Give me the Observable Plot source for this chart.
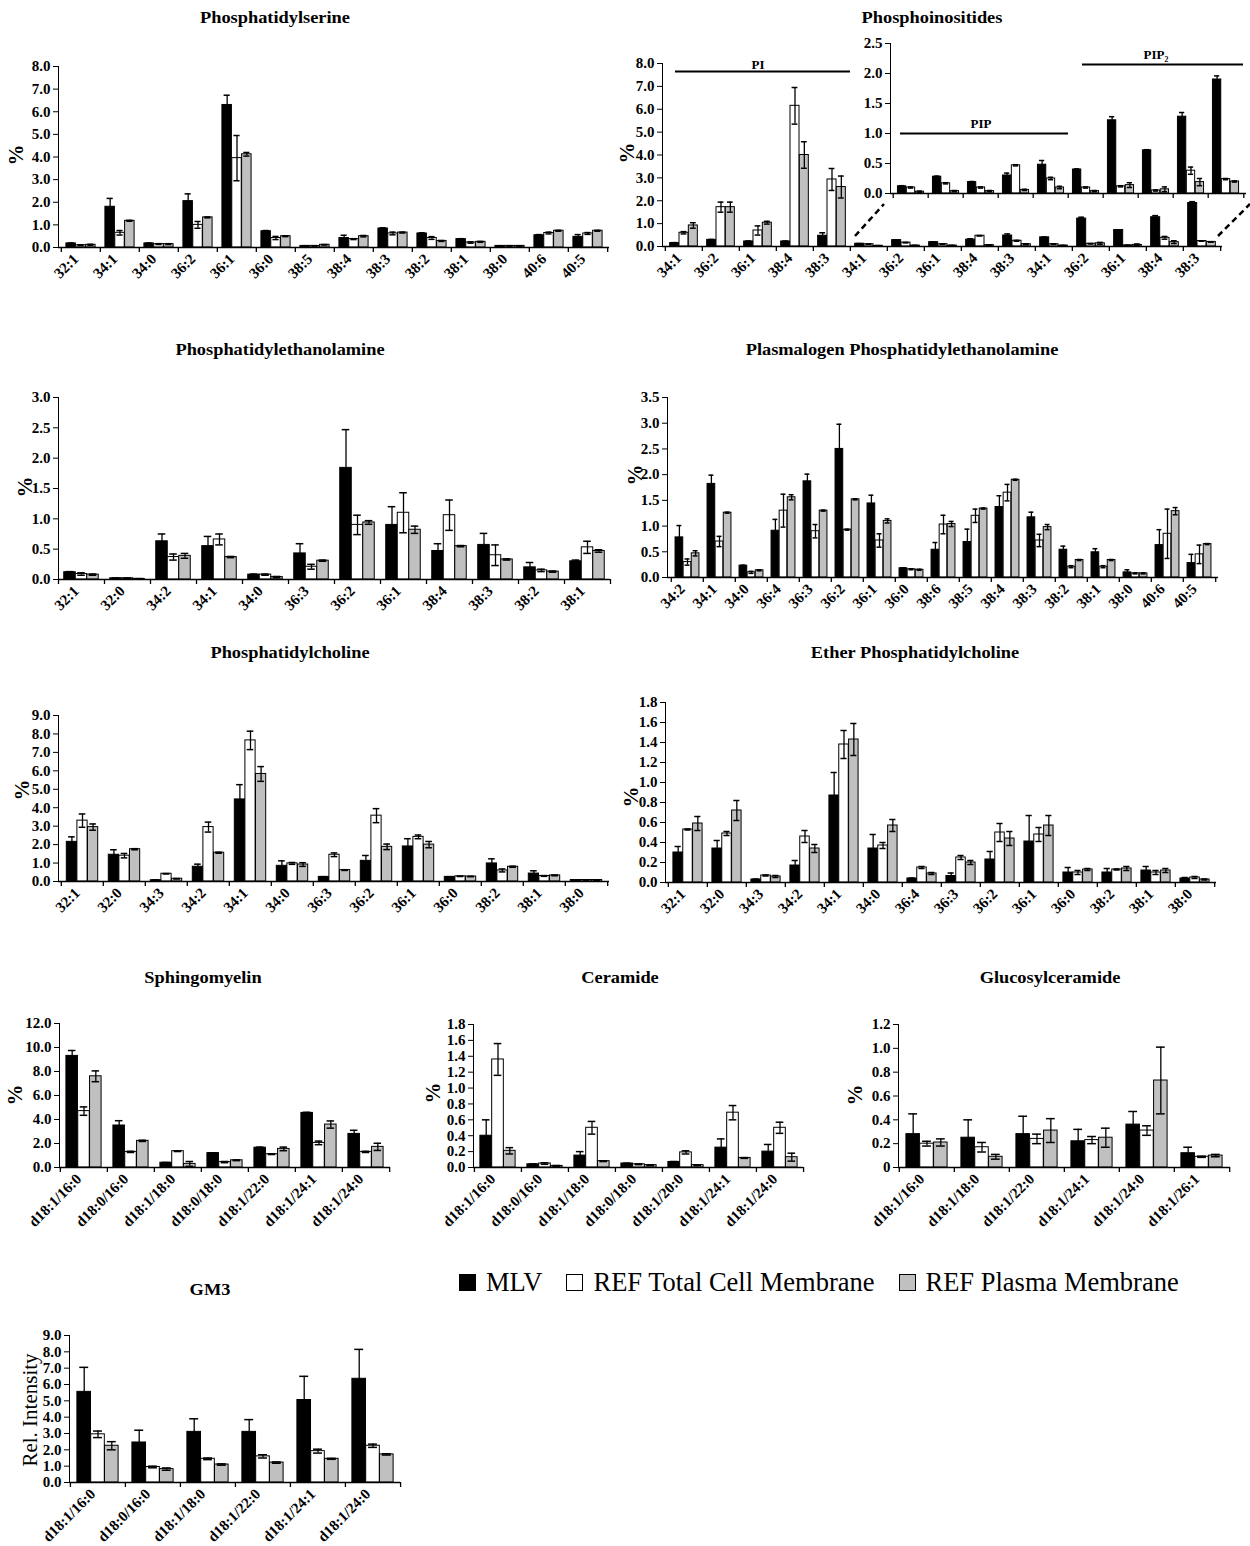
<!DOCTYPE html>
<html>
<head>
<meta charset="utf-8">
<script src="https://cdn.jsdelivr.net/npm/d3@7"></script>
<script src="https://cdn.jsdelivr.net/npm/@observablehq/plot@0.6"></script>
<style>
  body { margin: 0; background: #fff; }
  #page { position: relative; width: 1250px; height: 1546px; overflow: hidden;
          font-family: "Liberation Serif", "Times New Roman", serif; color: #000; }
  .ttl { position: absolute; font-weight: bold; font-size: 17px; white-space: nowrap; transform: translate(-50%, -50%) scaleX(1.08); }
  .ylab { position: absolute; font-weight: bold; font-size: 21px; white-space: nowrap; transform: translate(-50%, -50%) rotate(-90deg); }
  .ylab.rel { font-weight: normal; font-size: 21px; }
  .panel { position: absolute; }
  .panel svg { overflow: visible; background: none !important; max-width: none !important; }
  #legend { position: absolute; left: 459px; top: 1267px; display: flex; align-items: center; font-size: 26.5px; white-space: nowrap; }
  #legend .sw { width: 15px; height: 15px; border: 1.5px solid #000; display: inline-block; margin-right: 10px; }
  #legend .it { display: flex; align-items: center; margin-right: 24px; }
</style>
</head>
<body>
<div id="page"></div>
<script>
// ---- series ----
const SERIES = ["MLV", "REF Total Cell Membrane", "REF Plasma Membrane"];
const FILLS = ["#000000", "#ffffff", "#c0c0c0"];

// ---- Phosphatidylserine ----
const psCats = ["32:1","34:1","34:0","36:2","36:1","36:0","38:5","38:4","38:3","38:2","38:1","38:0","40:6","40:5"];
const psMLV  = [0.18, 1.80, 0.18, 2.05, 6.30, 0.72, 0.07, 0.42, 0.84, 0.62, 0.37, 0.07, 0.54, 0.47];
const psMLVe = [0.02, 0.37, 0.02, 0.32, 0.43, 0.03, 0.01, 0.12, 0.03, 0.03, 0.02, 0.01, 0.03, 0.10];
const psTot  = [0.10, 0.65, 0.15, 1.00, 3.95, 0.42, 0.07, 0.37, 0.62, 0.42, 0.22, 0.07, 0.64, 0.62];
const psTote = [0.02, 0.10, 0.02, 0.15, 1.00, 0.07, 0.01, 0.02, 0.06, 0.06, 0.03, 0.01, 0.04, 0.04];
const psPM   = [0.12, 1.18, 0.15, 1.33, 4.12, 0.50, 0.12, 0.50, 0.66, 0.29, 0.25, 0.07, 0.74, 0.74];
const psPMe  = [0.02, 0.02, 0.02, 0.02, 0.08, 0.02, 0.01, 0.03, 0.02, 0.02, 0.02, 0.01, 0.02, 0.02];

// ---- Phosphoinositides ----
const piCats = ["34:1","36:2","36:1","38:4","38:3"];
const piMLV  = [0.15, 0.29, 0.22, 0.22, 0.47];
const piMLVe = [0.02, 0.02, 0.02, 0.02, 0.13];
const piTot  = [0.60, 1.72, 0.70, 6.15, 2.93];
const piTote = [0.05, 0.22, 0.20, 0.80, 0.48];
const piPM   = [0.92, 1.72, 1.04, 4.00, 2.60];
const piPMe  = [0.12, 0.22, 0.06, 0.58, 0.48];

const pipCats = ["34:1","36:2","36:1","38:4","38:3"];
const pipMLV  = [0.12, 0.28, 0.19, 0.30, 0.48];
const pipMLVe = [0.01, 0.01, 0.01, 0.04, 0.07];
const pipTot  = [0.10, 0.17, 0.10, 0.47, 0.25];
const pipTote = [0.01, 0.01, 0.01, 0.01, 0.02];
const pipPM   = [0.03, 0.04, 0.04, 0.06, 0.10];
const pipPMe  = [0.01, 0.01, 0.01, 0.01, 0.02];

const pip2Cats = ["34:1","36:2","36:1","38:4","38:3"];
const pip2MLV  = [0.40, 1.22, 0.72, 1.28, 1.90];
const pip2MLVe = [0.01, 0.06, 0.01, 0.07, 0.06];
const pip2Tot  = [0.10, 0.12, 0.05, 0.38, 0.24];
const pip2Tote = [0.01, 0.01, 0.01, 0.06, 0.01];
const pip2PM   = [0.04, 0.14, 0.07, 0.19, 0.20];
const pip2PMe  = [0.01, 0.04, 0.04, 0.06, 0.01];

// ---- Phosphatidylethanolamine ----
const peCats = ["32:1","32:0","34:2","34:1","34:0","36:3","36:2","36:1","38:4","38:3","38:2","38:1"];
const peMLV  = [0.12, 0.02, 0.63, 0.55, 0.08, 0.43, 1.84, 0.90, 0.47, 0.57, 0.20, 0.30];
const peMLVe = [0.01, 0.005, 0.12, 0.16, 0.01, 0.16, 0.63, 0.30, 0.12, 0.19, 0.08, 0.02];
const peTot  = [0.09, 0.02, 0.37, 0.66, 0.08, 0.21, 0.90, 1.10, 1.06, 0.40, 0.15, 0.53];
const peTote = [0.02, 0.005, 0.05, 0.09, 0.01, 0.04, 0.16, 0.33, 0.25, 0.17, 0.02, 0.10];
const pePM   = [0.08, 0.01, 0.39, 0.37, 0.04, 0.31, 0.94, 0.82, 0.55, 0.33, 0.13, 0.47];
const pePMe  = [0.01, 0.005, 0.04, 0.01, 0.01, 0.01, 0.03, 0.06, 0.01, 0.01, 0.01, 0.02];

// ---- Plasmalogen Phosphatidylethanolamine ----
const ppeCats = ["34:2","34:1","34:0","36:4","36:3","36:2","36:1","36:0","38:6","38:5","38:4","38:3","38:2","38:1","38:0","40:6","40:5"];
const ppeMLV  = [0.78, 1.82, 0.23, 0.91, 1.87, 2.50, 1.44, 0.18, 0.54, 0.69, 1.37, 1.17, 0.54, 0.49, 0.10, 0.63, 0.28];
const ppeMLVe = [0.23, 0.17, 0.01, 0.22, 0.14, 0.48, 0.16, 0.01, 0.14, 0.25, 0.22, 0.10, 0.07, 0.07, 0.05, 0.30, 0.17];
const ppeTot  = [0.30, 0.70, 0.10, 1.30, 0.90, 0.93, 0.72, 0.16, 1.03, 1.20, 1.65, 0.72, 0.21, 0.21, 0.08, 0.85, 0.45];
const ppeTote = [0.06, 0.10, 0.02, 0.32, 0.13, 0.01, 0.13, 0.01, 0.18, 0.13, 0.16, 0.12, 0.02, 0.02, 0.01, 0.48, 0.18];
const ppePM   = [0.47, 1.26, 0.14, 1.56, 1.30, 1.52, 1.10, 0.15, 1.04, 1.34, 1.90, 0.98, 0.34, 0.34, 0.08, 1.29, 0.65];
const ppePMe  = [0.05, 0.01, 0.01, 0.05, 0.01, 0.01, 0.04, 0.01, 0.05, 0.01, 0.01, 0.05, 0.01, 0.01, 0.01, 0.07, 0.01];

// ---- Phosphatidylcholine ----
const pcCats = ["32:1","32:0","34:3","34:2","34:1","34:0","36:3","36:2","36:1","36:0","38:2","38:1","38:0"];
const pcMLV  = [2.15, 1.45, 0.07, 0.80, 4.45, 0.85, 0.25, 1.12, 1.90, 0.25, 0.98, 0.43, 0.08];
const pcMLVe = [0.27, 0.27, 0.01, 0.14, 0.80, 0.27, 0.01, 0.29, 0.42, 0.01, 0.25, 0.15, 0.01];
const pcTot  = [3.30, 1.40, 0.42, 2.95, 7.65, 0.98, 1.45, 3.57, 2.42, 0.28, 0.60, 0.30, 0.08];
const pcTote = [0.36, 0.12, 0.01, 0.27, 0.50, 0.05, 0.10, 0.38, 0.10, 0.01, 0.08, 0.02, 0.01];
const pcPM   = [2.95, 1.75, 0.15, 1.56, 5.83, 0.92, 0.62, 1.88, 2.00, 0.27, 0.80, 0.33, 0.08];
const pcPMe  = [0.17, 0.03, 0.01, 0.03, 0.40, 0.10, 0.02, 0.15, 0.17, 0.01, 0.03, 0.02, 0.01];

// ---- Ether Phosphatidylcholine ----
const epcCats = ["32:1","32:0","34:3","34:2","34:1","34:0","36:4","36:3","36:2","36:1","36:0","38:2","38:1","38:0"];
const epcMLV  = [0.30, 0.34, 0.03, 0.17, 0.87, 0.34, 0.04, 0.065, 0.23, 0.41, 0.10, 0.10, 0.12, 0.04];
const epcMLVe = [0.06, 0.08, 0.005, 0.05, 0.23, 0.14, 0.005, 0.03, 0.08, 0.26, 0.05, 0.04, 0.04, 0.01];
const epcTot  = [0.53, 0.49, 0.07, 0.46, 1.38, 0.37, 0.15, 0.25, 0.50, 0.48, 0.10, 0.13, 0.10, 0.05];
const epcTote = [0.005, 0.02, 0.005, 0.06, 0.14, 0.03, 0.01, 0.02, 0.09, 0.07, 0.02, 0.005, 0.02, 0.01];
const epcPM   = [0.59, 0.72, 0.06, 0.34, 1.43, 0.57, 0.09, 0.20, 0.44, 0.57, 0.13, 0.14, 0.12, 0.03];
const epcPMe  = [0.07, 0.10, 0.01, 0.04, 0.16, 0.06, 0.01, 0.02, 0.07, 0.10, 0.01, 0.02, 0.02, 0.005];

// ---- Sphingomyelin ----
const smCats = ["d18:1/16:0","d18:0/16:0","d18:1/18:0","d18:0/18:0","d18:1/22:0","d18:1/24:1","d18:1/24:0"];
const smMLV  = [9.30, 3.50, 0.40, 1.20, 1.65, 4.55, 2.80];
const smMLVe = [0.45, 0.40, 0.02, 0.03, 0.05, 0.05, 0.30];
const smTot  = [4.70, 1.30, 1.36, 0.45, 1.11, 2.05, 1.30];
const smTote = [0.35, 0.05, 0.03, 0.05, 0.03, 0.15, 0.05];
const smPM   = [7.60, 2.22, 0.30, 0.60, 1.55, 3.58, 1.72];
const smPMe  = [0.45, 0.05, 0.20, 0.03, 0.15, 0.30, 0.30];

// ---- Ceramide ----
const cerCats = ["d18:1/16:0","d18:0/16:0","d18:1/18:0","d18:0/18:0","d18:1/20:0","d18:1/24:1","d18:1/24:0"];
const cerMLV  = [0.40, 0.04, 0.15, 0.05, 0.07, 0.25, 0.20];
const cerMLVe = [0.20, 0.005, 0.05, 0.005, 0.005, 0.11, 0.09];
const cerTot  = [1.36, 0.05, 0.50, 0.04, 0.19, 0.69, 0.50];
const cerTote = [0.20, 0.01, 0.08, 0.005, 0.02, 0.09, 0.07];
const cerPM   = [0.21, 0.02, 0.08, 0.03, 0.03, 0.12, 0.13];
const cerPMe  = [0.04, 0.005, 0.005, 0.005, 0.005, 0.005, 0.05];

// ---- Glucosylceramide ----
const glcCats = ["d18:1/16:0","d18:1/18:0","d18:1/22:0","d18:1/24:1","d18:1/24:0","d18:1/26:1"];
const glcMLV  = [0.28, 0.25, 0.28, 0.22, 0.36, 0.12];
const glcMLVe = [0.17, 0.15, 0.15, 0.10, 0.11, 0.05];
const glcTot  = [0.20, 0.17, 0.24, 0.23, 0.31, 0.09];
const glcTote = [0.02, 0.04, 0.04, 0.03, 0.04, 0.005];
const glcPM   = [0.21, 0.09, 0.31, 0.25, 0.73, 0.10];
const glcPMe  = [0.03, 0.02, 0.10, 0.08, 0.28, 0.01];

// ---- GM3 ----
const gm3Cats = ["d18:1/16:0","d18:0/16:0","d18:1/18:0","d18:1/22:0","d18:1/24:1","d18:1/24:0"];
const gm3MLV  = [5.55, 2.45, 3.10, 3.10, 5.05, 6.35];
const gm3MLVe = [1.50, 0.75, 0.80, 0.75, 1.45, 1.80];
const gm3Tot  = [2.95, 0.95, 1.45, 1.60, 1.92, 2.25];
const gm3Tote = [0.20, 0.05, 0.05, 0.10, 0.12, 0.10];
const gm3PM   = [2.25, 0.82, 1.10, 1.22, 1.45, 1.72];
const gm3PMe  = [0.25, 0.07, 0.04, 0.04, 0.03, 0.04];

// ---- helpers ----
const page = document.getElementById("page");
const fmt1 = d3.format(".1f");
const FONT = "'Liberation Serif', 'Times New Roman', serif";

function addText(cls, text, cx, cy) {
  const el = document.createElement("div");
  el.className = cls;
  el.innerHTML = text;
  el.style.left = cx + "px";
  el.style.top = cy + "px";
  page.appendChild(el);
}

// Clustered bar chart with error bars; frame = [left, top, right, bottom] of the plot area on the page
function barChart(o) {
  const {keys, label = d => d, vals, errs, frame, yMax, yStep, yFmt = fmt1, showX = true, extra = () => []} = o;
  const [L, T, R, B] = frame;
  const ml = 60, mr = 14, mt = 14, mb = showX ? 90 : 14;
  const n = keys.length, bw = (R - L) / n, po = 0.5;
  const unit = bw / (3 + 2 * po), capIn = unit * 0.17;
  const rows = keys.flatMap((k, i) => SERIES.map((s, j) => ({key: k, j, v: vals[j][i], e: errs[j][i]})));
  const marks = [];
  for (let j = 0; j < 3; j++) {
    marks.push(Plot.barY(rows.filter(r => r.j === j), {
      x: "key", y: "v", fill: FILLS[j], stroke: "#000", strokeWidth: 1,
      insetLeft: unit * (po + j), insetRight: unit * (po + 2 - j)
    }));
  }
  for (let j = 0; j < 3; j++) {
    const d = rows.filter(r => r.j === j);
    const il = unit * (po + j) + capIn, ir = unit * (po + 2 - j) + capIn;
    marks.push(Plot.ruleX(d, {x: "key", y1: r => Math.max(0, r.v - r.e), y2: r => r.v + r.e, dx: unit * (j - 1), stroke: "#000", strokeWidth: 1.3}));
    marks.push(Plot.tickY(d, {x: "key", y: r => r.v + r.e, insetLeft: il, insetRight: ir, stroke: "#000", strokeWidth: 1.5}));
    marks.push(Plot.tickY(d.filter(r => r.v - r.e > 0), {x: "key", y: r => r.v - r.e, insetLeft: il, insetRight: ir, stroke: "#000", strokeWidth: 1.5}));
  }
  // category axis with boundary tick marks
  marks.push(Plot.ruleY([0], {stroke: "#000", strokeWidth: 1.3}));
  marks.push(Plot.ruleX(keys, {x: d => d, y1: 0, y2: 0, insetBottom: -5, dx: -bw / 2, stroke: "#000", strokeWidth: 1.3}));
  marks.push(Plot.ruleX(keys.slice(-1), {x: d => d, y1: 0, y2: 0, insetBottom: -5, dx: bw / 2, stroke: "#000", strokeWidth: 1.3}));
  // rotated category labels, set a little left of the band centre
  const useAxisMark = showX && typeof Plot.axisX === "function";
  if (useAxisMark) {
    marks.push(Plot.axisX({tickSize: 0, tickRotate: -45, tickFormat: label, tickPadding: 9, dx: -5, label: null}));
  }
  marks.push(...extra());

  const svg = Plot.plot({
    width: R - L + ml + mr, height: B - T + mt + mb,
    marginLeft: ml, marginRight: mr, marginTop: mt, marginBottom: mb,
    style: {fontFamily: FONT, fontWeight: "bold", fontSize: "15px", background: "none", color: "#000", overflow: "visible"},
    x: showX && !useAxisMark
      ? {domain: keys, padding: 0, label: null, tickSize: 0, tickRotate: -45, tickFormat: label, tickPadding: 9}
      : {domain: keys, padding: 0, label: null, ...(showX ? {} : {axis: null})},
    y: {domain: [0, yMax], ticks: d3.range(0, yMax + yStep / 2, yStep), tickFormat: yFmt, label: null, line: true, tickSize: 5, tickPadding: 3},
    marks
  });
  const box = document.createElement("div");
  box.className = "panel";
  box.style.left = (L - ml) + "px";
  box.style.top = (T - mt) + "px";
  box.appendChild(svg);
  page.appendChild(box);
}

// group bracket: a heavy line over a run of categories with its name above
function bracket(k1, k2, kMid, y, name, insetLeft, dyText) {
  return [
    Plot.ruleY([y], {x1: () => k1, x2: () => k2, insetLeft, insetRight: 0, stroke: "#000", strokeWidth: 2}),
    Plot.text([name], {x: () => kMid, y: () => y, dy: dyText, text: d => d, fontSize: 13})
  ];
}

// ---- Phosphatidylserine ----
addText("ttl", "Phosphatidylserine", 275, 18);
addText("ylab", "%", 16, 155);
barChart({keys: psCats, vals: [psMLV, psTot, psPM], errs: [psMLVe, psTote, psPMe],
  frame: [58, 66, 609, 247], yMax: 8, yStep: 1});

// ---- Phosphoinositides: PI / PIP / PIP2 on the 0–8 % scale ----
addText("ttl", "Phosphoinositides", 932, 18);
addText("ylab", "%", 627, 153);
const piKeys = [...piCats.map(c => "PI|" + c), ...pipCats.map(c => "PIP|" + c), ...pip2Cats.map(c => "PIP2|" + c)];
const piAll = [[...piMLV, ...pipMLV, ...pip2MLV], [...piTot, ...pipTot, ...pip2Tot], [...piPM, ...pipPM, ...pip2PM]];
const piAllE = [[...piMLVe, ...pipMLVe, ...pip2MLVe], [...piTote, ...pipTote, ...pip2Tote], [...piPMe, ...pipPMe, ...pip2PMe]];
barChart({keys: piKeys, label: d => d.split("|")[1], vals: piAll, errs: piAllE,
  frame: [662, 63, 1222, 246], yMax: 8, yStep: 1,
  extra: () => bracket(piKeys[0], piKeys[4], piKeys[2], 7.65, "PI", 10, -7)});

// PIP / PIP2 enlarged on a 0–2.5 % scale
const inKeys = piKeys.slice(5);
barChart({keys: inKeys, vals: piAll.map(a => a.slice(5)), errs: piAllE.map(a => a.slice(5)),
  frame: [890, 43, 1246, 193], yMax: 2.5, yStep: 0.5, showX: false,
  extra: () => [
    ...bracket(inKeys[0], inKeys[4], inKeys[2], 1.0, "PIP", 7, -10),
    ...bracket(inKeys[5], inKeys[9], inKeys[7], 2.15, "PIP\u2082", 14, -10)
  ]});

// dashed connectors between the PIP/PIP2 bars and the enlarged view
(function () {
  const ns = "http://www.w3.org/2000/svg";
  const s = document.createElementNS(ns, "svg");
  s.setAttribute("width", 1250); s.setAttribute("height", 300);
  s.style.position = "absolute"; s.style.left = "0px"; s.style.top = "0px";
  [[855, 236, 884, 204], [1218, 236, 1250, 204]].forEach(([x1, y1, x2, y2]) => {
    const l = document.createElementNS(ns, "line");
    l.setAttribute("x1", x1); l.setAttribute("y1", y1); l.setAttribute("x2", x2); l.setAttribute("y2", y2);
    l.setAttribute("stroke", "#000"); l.setAttribute("stroke-width", 2.5); l.setAttribute("stroke-dasharray", "6,4");
    s.appendChild(l);
  });
  page.appendChild(s);
})();

// ---- Phosphatidylethanolamine ----
addText("ttl", "Phosphatidylethanolamine", 280, 350);
addText("ylab", "%", 25, 487);
barChart({keys: peCats, vals: [peMLV, peTot, pePM], errs: [peMLVe, peTote, pePMe],
  frame: [58, 397, 610, 579], yMax: 3, yStep: 0.5});

// ---- Plasmalogen Phosphatidylethanolamine ----
addText("ttl", "Plasmalogen Phosphatidylethanolamine", 902, 350);
addText("ylab", "%", 635, 475);
barChart({keys: ppeCats, vals: [ppeMLV, ppeTot, ppePM], errs: [ppeMLVe, ppeTote, ppePMe],
  frame: [667, 397, 1218, 577], yMax: 3.5, yStep: 0.5});

// ---- Phosphatidylcholine ----
addText("ttl", "Phosphatidylcholine", 290, 653);
addText("ylab", "%", 22, 790);
barChart({keys: pcCats, vals: [pcMLV, pcTot, pcPM], errs: [pcMLVe, pcTote, pcPMe],
  frame: [58, 715, 609, 881], yMax: 9, yStep: 1});

// ---- Ether Phosphatidylcholine ----
addText("ttl", "Ether Phosphatidylcholine", 915, 653);
addText("ylab", "%", 631, 797);
barChart({keys: epcCats, vals: [epcMLV, epcTot, epcPM], errs: [epcMLVe, epcTote, epcPMe],
  frame: [665, 702, 1216, 882], yMax: 1.8, yStep: 0.2});

// ---- Sphingomyelin ----
addText("ttl", "Sphingomyelin", 203, 978);
addText("ylab", "%", 15, 1095);
barChart({keys: smCats, vals: [smMLV, smTot, smPM], errs: [smMLVe, smTote, smPMe],
  frame: [59, 1023, 390, 1167], yMax: 12, yStep: 2});

// ---- Ceramide ----
addText("ttl", "Ceramide", 620, 978);
addText("ylab", "%", 433, 1093);
barChart({keys: cerCats, vals: [cerMLV, cerTot, cerPM], errs: [cerMLVe, cerTote, cerPMe],
  frame: [473, 1024, 803, 1167], yMax: 1.8, yStep: 0.2});

// ---- Glucosylceramide ----
addText("ttl", "Glucosylceramide", 1050, 978);
addText("ylab", "%", 855, 1095);
barChart({keys: glcCats, vals: [glcMLV, glcTot, glcPM], errs: [glcMLVe, glcTote, glcPMe],
  frame: [898, 1024, 1230, 1167], yMax: 1.2, yStep: 0.2, yFmt: d => d === 0 ? "0" : fmt1(d)});

// ---- GM3 ----
addText("ttl", "GM3", 210, 1290);
addText("ylab rel", "Rel. Intensity", 30, 1410);
barChart({keys: gm3Cats, vals: [gm3MLV, gm3Tot, gm3PM], errs: [gm3MLVe, gm3Tote, gm3PMe],
  frame: [69, 1335, 400, 1482], yMax: 9, yStep: 1});

// ---- legend ----
(function () {
  const lg = document.createElement("div");
  lg.id = "legend";
  SERIES.forEach((s, j) => {
    const it = document.createElement("div");
    it.className = "it";
    const sw = document.createElement("span");
    sw.className = "sw";
    sw.style.background = FILLS[j];
    it.appendChild(sw);
    it.appendChild(document.createTextNode(s));
    lg.appendChild(it);
  });
  page.appendChild(lg);
})();
</script>
</body>
</html>
